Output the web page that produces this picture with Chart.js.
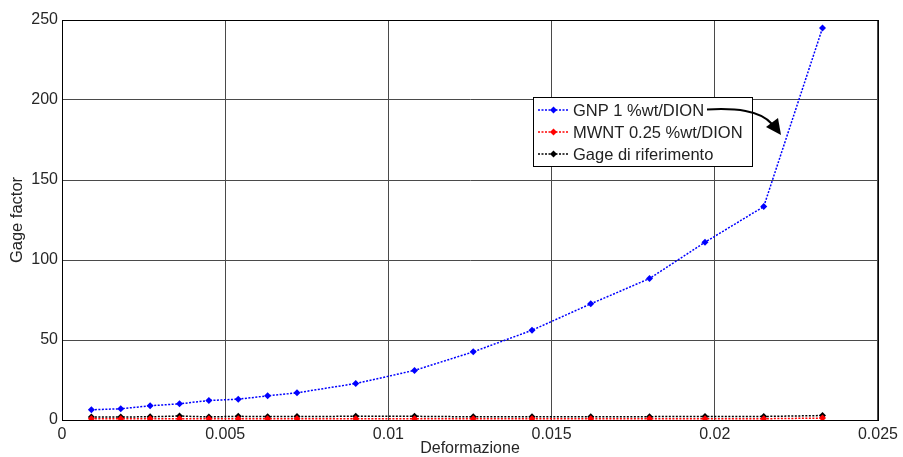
<!DOCTYPE html>
<html lang="it">
<head>
    <meta charset="UTF-8">
    <title>Gage factor</title>
    <style>
        body { margin: 0; background: #fff; }
        canvas { display: block; }
    </style>
</head>
<body>
    <canvas id="myChart" width="903" height="457"></canvas>

    <script src="https://cdn.jsdelivr.net/npm/chart.js@4/dist/chart.umd.min.js"></script>
    <script>
        // deformazione (x) per ogni misura
        var strain = [0.0009, 0.0018, 0.0027, 0.0036, 0.0045, 0.0054, 0.0063, 0.0072, 0.0090,
                      0.0108, 0.0126, 0.0144, 0.0162, 0.0180, 0.0197, 0.0215, 0.0233];
        var gnpGF  = [6.4, 7.0, 8.9, 10.1, 12.2, 13.0, 15.1, 17.0, 22.8,
                      31.0, 42.6, 56.1, 72.6, 88.4, 111.1, 133.4, 245.0];
        var mwntGF = [0.8, 0.8, 0.8, 0.8, 0.8, 0.8, 0.8, 0.8, 0.8,
                      0.8, 0.8, 0.8, 0.8, 0.8, 0.8, 0.8, 1.2];
        var refGF  = [1.9, 1.9, 2.0, 2.5, 1.9, 2.3, 2.1, 2.2, 2.3,
                      2.3, 2.0, 2.0, 2.1, 2.1, 2.2, 2.2, 2.8];
        var seriesNames = ["GNP 1 %wt/DION", "MWNT 0.25 %wt/DION", "Gage di riferimento"];
        var seriesColors = ["#0000ff", "#ff0000", "#000000"];
        var xTicks = [0, 0.005, 0.01, 0.015, 0.02, 0.025];
        var yTicks = [0, 50, 100, 150, 200, 250];

        var FONT = "'Liberation Sans', Arial, sans-serif";

        function toPoints(ys) {
            var pts = [];
            for (var i = 0; i < strain.length; i++) {
                pts.push({ x: strain[i], y: ys[i] });
            }
            return pts;
        }

        function makeSet(i, ys) {
            return {
                label: seriesNames[i],
                data: toPoints(ys),
                borderColor: seriesColors[i],
                backgroundColor: seriesColors[i],
                borderWidth: 1.5,
                borderDash: [2, 1.5],
                pointStyle: 'rectRot',
                pointRadius: 3.5,
                pointBorderWidth: 0,
                tension: 0
            };
        }

        // cornice del grafico (lati superiore e destro)
        var framePlugin = {
            id: 'frame',
            afterDatasetsDraw: function(chart) {
                var a = chart.chartArea, ctx = chart.ctx;
                ctx.save();
                ctx.strokeStyle = '#000';
                ctx.lineWidth = 1;
                ctx.strokeRect(a.left + 0.5, a.top + 0.5, a.right - a.left, a.bottom - a.top);
                ctx.restore();
            }
        };

        // legenda dentro l'area del grafico + freccia
        var legendBoxPlugin = {
            id: 'legendBox',
            afterDraw: function(chart) {
                var ctx = chart.ctx;
                var bx = 533, by = 97, bw = 219, bh = 69;
                ctx.save();
                ctx.fillStyle = '#fff';
                ctx.fillRect(bx, by, bw, bh);
                ctx.strokeStyle = '#000';
                ctx.lineWidth = 1;
                ctx.strokeRect(bx + 0.5, by + 0.5, bw, bh);

                ctx.font = '16.5px ' + FONT;
                ctx.textBaseline = 'middle';
                var rows = [110, 132, 154];
                chart.data.datasets.forEach(function(ds, i) {
                    var yy = rows[i];
                    ctx.strokeStyle = ds.borderColor;
                    ctx.lineWidth = 1.5;
                    ctx.setLineDash([2, 1.5]);
                    ctx.beginPath();
                    ctx.moveTo(538, yy);
                    ctx.lineTo(569, yy);
                    ctx.stroke();
                    ctx.setLineDash([]);
                    ctx.fillStyle = ds.backgroundColor;
                    ctx.beginPath();
                    ctx.moveTo(553.5, yy - 3.5);
                    ctx.lineTo(557, yy);
                    ctx.lineTo(553.5, yy + 3.5);
                    ctx.lineTo(550, yy);
                    ctx.closePath();
                    ctx.fill();
                    ctx.fillStyle = '#222';
                    ctx.fillText(ds.label, 573, yy + 1);
                });

                // freccia curva
                ctx.strokeStyle = '#000';
                ctx.lineWidth = 2;
                ctx.beginPath();
                ctx.moveTo(707, 109.5);
                ctx.bezierCurveTo(735, 108, 760, 110, 772, 124);
                ctx.stroke();
                ctx.fillStyle = '#000';
                ctx.beginPath();
                ctx.moveTo(781, 135);
                ctx.lineTo(766, 127);
                ctx.lineTo(778, 118);
                ctx.closePath();
                ctx.fill();
                ctx.restore();
            }
        };

        var ctx = document.getElementById('myChart').getContext('2d');
        var myChart = new Chart(ctx, {
            type: 'line',
            data: {
                datasets: [makeSet(0, gnpGF), makeSet(1, mwntGF), makeSet(2, refGF)]
            },
            options: {
                responsive: false,
                animation: false,
                layout: { padding: { top: 20, right: 24, left: 0, bottom: 0 } },
                plugins: {
                    legend: { display: false },
                    tooltip: { enabled: false }
                },
                scales: {
                    x: {
                        type: 'linear',
                        min: 0,
                        max: 0.025,
                        afterFit: function(s) { s.height = 37; },
                        afterBuildTicks: function(s) {
                            s.ticks = xTicks.map(function(v) { return { value: v }; });
                        },
                        grid: { color: '#4a4a4a', lineWidth: 1, drawTicks: false },
                        border: { display: true, color: '#000', width: 1 },
                        ticks: {
                            padding: 5,
                            color: '#262626',
                            font: { family: FONT, size: 16 },
                            maxRotation: 0,
                            callback: function(v) { return String(Number(v.toFixed(3))); }
                        },
                        title: {
                            display: true,
                            text: 'Deformazione',
                            color: '#262626',
                            font: { family: FONT, size: 16 },
                            padding: { top: 0, bottom: -1 }
                        }
                    },
                    y: {
                        type: 'linear',
                        min: 0,
                        max: 250,
                        afterFit: function(s) { s.width = 62; },
                        afterBuildTicks: function(s) {
                            s.ticks = yTicks.map(function(v) { return { value: v }; });
                        },
                        grid: { color: '#4a4a4a', lineWidth: 1, drawTicks: false },
                        border: { display: true, color: '#000', width: 1 },
                        ticks: {
                            padding: 4,
                            color: '#262626',
                            font: { family: FONT, size: 16 }
                        },
                        title: {
                            display: true,
                            text: 'Gage factor',
                            color: '#262626',
                            font: { family: FONT, size: 16.5 },
                            padding: { top: 8, bottom: 0 }
                        }
                    }
                }
            },
            plugins: [framePlugin, legendBoxPlugin]
        });
    </script>
</body>
</html>
